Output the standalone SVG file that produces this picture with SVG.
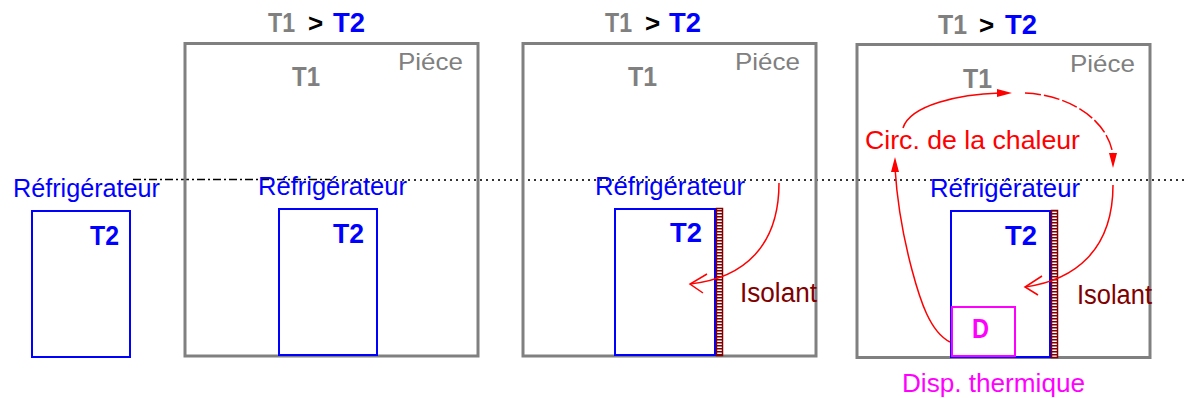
<svg xmlns="http://www.w3.org/2000/svg" width="1188" height="398" viewBox="0 0 1188 398">
<style>
text{font-family:"Liberation Sans",Arial,sans-serif}
.room{fill:none;stroke:#808080;stroke-width:3}
.fr{fill:none;stroke:#0000ff;stroke-width:2}
.lblb{fill:#0000ff;font-size:26px}
.t2{fill:#0000ff;font-size:28px;font-weight:bold}
.t1{fill:#808080;font-size:27px;font-weight:bold}
.gt{fill:#000;font-size:26px;font-weight:bold}
.pc{fill:#808080;font-size:24px}
.iso{fill:#800000;font-size:27px}
.isostrip{fill:url(#hatch);stroke:#800000;stroke-width:1.5}
.heat{fill:none;stroke:#ff0000;stroke-width:1.5}
.mag{fill:#ff00ff}
</style>
<defs>
<pattern id="hatch" width="4" height="3" patternUnits="userSpaceOnUse">
<rect width="4" height="3" fill="#fff"/>
<rect width="4" height="1.5" fill="#800000"/>
</pattern>
</defs>

<g id="levels">
<line x1="133" y1="179.5" x2="330" y2="179.5" stroke="#000" stroke-width="1.5" stroke-dasharray="8 3 2 3"/>
<line x1="330" y1="180" x2="1188" y2="180" stroke="#333" stroke-width="2" stroke-dasharray="2 4"/>
</g>

<g id="panel1">
<text class="lblb" x="13" y="197" textLength="147" lengthAdjust="spacingAndGlyphs">Réfrigérateur</text>
<rect class="fr" x="32" y="211" width="98" height="146"/>
<text class="t2" x="90" y="245" textLength="29" lengthAdjust="spacingAndGlyphs">T2</text>
</g>

<g id="panel2">
<text class="t1" x="268" y="32" textLength="27" lengthAdjust="spacingAndGlyphs">T1</text>
<text class="gt" x="308" y="32">&gt;</text>
<text class="t2" x="333" y="32" textLength="32" lengthAdjust="spacingAndGlyphs" style="font-size:27px">T2</text>
<rect class="room" x="185" y="43.5" width="293" height="312.5"/>
<text class="t1" x="292" y="86" textLength="28" lengthAdjust="spacingAndGlyphs">T1</text>
<text class="pc" x="398" y="70" textLength="65" lengthAdjust="spacingAndGlyphs">Piéce</text>
<text class="lblb" x="258" y="195" textLength="149" lengthAdjust="spacingAndGlyphs">Réfrigérateur</text>
<rect class="fr" x="279" y="209" width="98" height="146"/>
<text class="t2" x="333" y="243" textLength="31" lengthAdjust="spacingAndGlyphs">T2</text>
</g>

<g id="panel3">
<text class="t1" x="605" y="32" textLength="27" lengthAdjust="spacingAndGlyphs">T1</text>
<text class="gt" x="645" y="32">&gt;</text>
<text class="t2" x="669" y="32" textLength="32" lengthAdjust="spacingAndGlyphs" style="font-size:27px">T2</text>
<rect class="room" x="523" y="43.5" width="293" height="312.5"/>
<text class="t1" x="628" y="86" textLength="29" lengthAdjust="spacingAndGlyphs">T1</text>
<text class="pc" x="735" y="70" textLength="65" lengthAdjust="spacingAndGlyphs">Piéce</text>
<text class="lblb" x="595" y="195" textLength="150" lengthAdjust="spacingAndGlyphs">Réfrigérateur</text>
<rect class="fr" x="615" y="209" width="100" height="146"/>
<rect class="isostrip" x="716.5" y="208.5" width="6" height="147"/>
<text class="t2" x="670" y="242" textLength="32" lengthAdjust="spacingAndGlyphs">T2</text>
<text class="iso" x="740" y="302" textLength="77" lengthAdjust="spacingAndGlyphs">Isolant</text>
</g>

<g id="panel4">
<text class="t1" x="938" y="34" textLength="29" lengthAdjust="spacingAndGlyphs">T1</text>
<text class="gt" x="979" y="34">&gt;</text>
<text class="t2" x="1005" y="34" textLength="32" lengthAdjust="spacingAndGlyphs" style="font-size:27px">T2</text>
<rect class="room" x="857" y="44.5" width="293" height="313"/>
<text class="t1" x="963" y="88" textLength="29" lengthAdjust="spacingAndGlyphs">T1</text>
<text class="pc" x="1070" y="72" textLength="65" lengthAdjust="spacingAndGlyphs">Piéce</text>
<text x="865" y="149" fill="#ff0000" font-size="26" textLength="215" lengthAdjust="spacingAndGlyphs">Circ. de la chaleur</text>
<text class="lblb" x="930" y="197" textLength="150" lengthAdjust="spacingAndGlyphs">Réfrigérateur</text>
<rect class="fr" x="951" y="211" width="99" height="146"/>
<rect class="isostrip" x="1051.5" y="210.5" width="6" height="147"/>
<text class="t2" x="1005" y="245" textLength="32" lengthAdjust="spacingAndGlyphs">T2</text>
<text class="iso" x="1077" y="304" textLength="75" lengthAdjust="spacingAndGlyphs">Isolant</text>
</g>

<g id="dispositif">
<rect x="952" y="307" width="63" height="49" fill="none" stroke="#ff00ff" stroke-width="2"/>
<text class="mag" x="972" y="338" font-size="27" font-weight="bold" textLength="17" lengthAdjust="spacingAndGlyphs">D</text>
<text class="mag" x="902" y="392" font-size="26" textLength="183" lengthAdjust="spacingAndGlyphs">Disp. thermique</text>
</g>

<g id="connectors">
<path class="heat" d="M779,183 C779,245 745,278 690,284"/>
<path class="heat" d="M707,274 L690,284 L703,293"/>
<path class="heat" d="M950,342 C930,332 920,300 912,270 S897,200 895,168"/>
<polygon points="895,157 891,172 899,172" fill="#ff0000"/>
<path class="heat" d="M903,128 C910,105 960,94 1000,93"/>
<polygon points="1012,93 997,89 997,97" fill="#ff0000"/>
<path class="heat" d="M1025,93 C1070,95 1108,120 1113,155" stroke-dasharray="16 3"/>
<polygon points="1113,168 1109,153 1117,153" fill="#ff0000"/>
<path class="heat" d="M1113,185 C1113,250 1075,280 1025,287"/>
<path class="heat" d="M1042,276 L1025,287 L1038,295"/>
</g>
</svg>
